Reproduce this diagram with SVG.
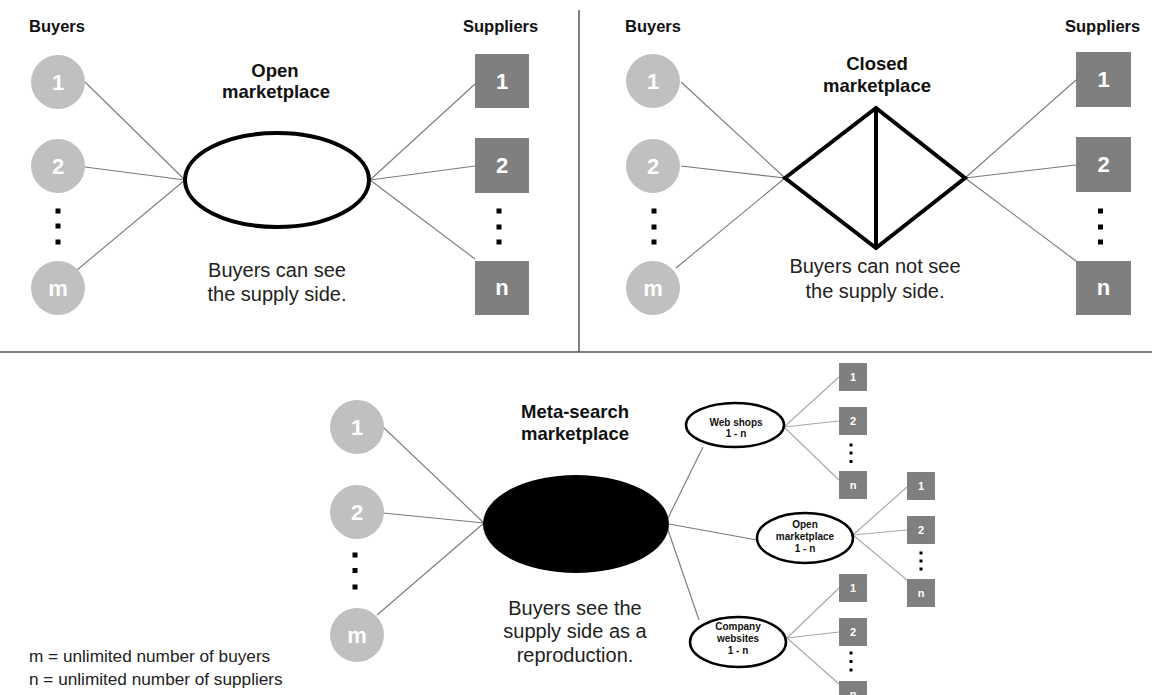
<svg xmlns="http://www.w3.org/2000/svg" width="1152" height="695" viewBox="0 0 1152 695">
  <style>
    text { font-family: "Liberation Sans", Arial, sans-serif; fill: #111; }
    .head { font-size: 16.5px; font-weight: bold; }
    .title { font-size: 18.5px; font-weight: bold; text-anchor: middle; }
    .body { font-size: 20px; text-anchor: middle; fill: #222; }
    .legend { font-size: 17.2px; fill: #222; }
    .buyer { fill: #c0c0c0; }
    .buyer-t { font-size: 22px; font-weight: bold; fill: #fff; text-anchor: middle; }
    .sup { fill: #7f7f7f; }
    .sup-t { font-size: 22px; font-weight: bold; fill: #fff; text-anchor: middle; }
    .ssup-t { font-size: 11px; font-weight: bold; fill: #fff; text-anchor: middle; }
    .dot { fill: #000; }
    .link { stroke: #7a7a7a; stroke-width: 1.1; fill: none; }
    .link-lite { stroke: #a8a8a8; stroke-width: 1.1; fill: none; }
    .market { fill: #fff; stroke: #000; stroke-width: 4; stroke-linejoin: miter; }
    .sub { fill: #fff; stroke: #000; stroke-width: 2.5; }
    .sub-t { font-size: 10px; font-weight: bold; text-anchor: middle; }
    .divider { stroke: #555; stroke-width: 1.5; }
  </style>

  <!-- panel dividers -->
  <g id="dividers">
    <line class="divider" x1="579" y1="10" x2="579" y2="352"/>
    <line class="divider" x1="0" y1="352" x2="1152" y2="352"/>
  </g>

  <!-- connectors -->
  <g id="connectors">
    <!-- open marketplace -->
    <line class="link" x1="85" y1="82" x2="185" y2="180"/>
    <line class="link" x1="85" y1="167" x2="185" y2="180"/>
    <line class="link" x1="77" y1="270" x2="185" y2="180"/>
    <line class="link" x1="370" y1="180" x2="475" y2="84"/>
    <line class="link" x1="370" y1="180" x2="475" y2="166"/>
    <line class="link" x1="370" y1="180" x2="475" y2="259"/>
    <!-- closed marketplace -->
    <line class="link" x1="681" y1="82" x2="785" y2="178"/>
    <line class="link" x1="681" y1="166" x2="785" y2="178"/>
    <line class="link" x1="676" y1="268" x2="785" y2="178"/>
    <line class="link" x1="965" y1="178" x2="1076" y2="80"/>
    <line class="link" x1="965" y1="178" x2="1076" y2="165"/>
    <line class="link" x1="965" y1="178" x2="1076" y2="261"/>
    <!-- meta-search marketplace -->
    <line class="link" x1="383" y1="427" x2="484" y2="523"/>
    <line class="link" x1="383" y1="513" x2="484" y2="523"/>
    <line class="link" x1="377" y1="615" x2="484" y2="523"/>
    <line class="link" x1="668" y1="518" x2="703" y2="447"/>
    <line class="link" x1="669" y1="524" x2="757" y2="540"/>
    <line class="link" x1="668" y1="530" x2="699" y2="620"/>
    <!-- web shops -->
    <line class="link-lite" x1="784" y1="427" x2="839" y2="377"/>
    <line class="link-lite" x1="784" y1="427" x2="839" y2="421"/>
    <line class="link-lite" x1="784" y1="427" x2="839" y2="480"/>
    <!-- open marketplace 1 - n -->
    <line class="link-lite" x1="853" y1="535" x2="907" y2="487"/>
    <line class="link-lite" x1="853" y1="535" x2="907" y2="530"/>
    <line class="link-lite" x1="853" y1="535" x2="907" y2="580"/>
    <!-- company websites -->
    <line class="link-lite" x1="787" y1="638" x2="839" y2="588"/>
    <line class="link-lite" x1="787" y1="638" x2="839" y2="632"/>
    <line class="link-lite" x1="787" y1="638" x2="839" y2="684"/>
  </g>

  <!-- ===== open marketplace panel ===== -->
  <g id="open-buyers">
    <text class="head" x="29" y="31.5">Buyers</text>
    <circle class="buyer" cx="58" cy="82" r="27"/>
    <text class="buyer-t" x="58" y="90">1</text>
    <circle class="buyer" cx="58" cy="166" r="27"/>
    <text class="buyer-t" x="58" y="174">2</text>
    <rect class="dot" x="55.5" y="208.5" width="5" height="5"/>
    <rect class="dot" x="55.5" y="223.5" width="5" height="5"/>
    <rect class="dot" x="55.5" y="239.5" width="5" height="5"/>
    <circle class="buyer" cx="58" cy="288" r="27"/>
    <text class="buyer-t" x="58" y="296">m</text>
  </g>
  <g id="open-market">
    <text class="title" x="275" y="77">Open</text>
    <text class="title" x="276" y="98">marketplace</text>
    <ellipse class="market" cx="277" cy="180" rx="92" ry="47"/>
    <text class="body" x="277" y="277">Buyers can see</text>
    <text class="body" x="277" y="301">the supply side.</text>
  </g>
  <g id="open-suppliers">
    <text class="head" x="463" y="31.5">Suppliers</text>
    <rect class="sup" x="475" y="54" width="54" height="54"/>
    <text class="sup-t" x="502" y="89">1</text>
    <rect class="sup" x="475" y="138" width="54" height="55"/>
    <text class="sup-t" x="502" y="173">2</text>
    <rect class="dot" x="496.5" y="208.5" width="5" height="5"/>
    <rect class="dot" x="496.5" y="224.5" width="5" height="5"/>
    <rect class="dot" x="496.5" y="239.5" width="5" height="5"/>
    <rect class="sup" x="475" y="261" width="54" height="54"/>
    <text class="sup-t" x="502" y="295">n</text>
  </g>

  <!-- ===== closed marketplace panel ===== -->
  <g id="closed-buyers">
    <text class="head" x="625" y="31.5">Buyers</text>
    <circle class="buyer" cx="653" cy="81" r="27"/>
    <text class="buyer-t" x="653" y="89">1</text>
    <circle class="buyer" cx="653" cy="166" r="27"/>
    <text class="buyer-t" x="653" y="174">2</text>
    <rect class="dot" x="651.5" y="208.5" width="5" height="5"/>
    <rect class="dot" x="651.5" y="224.5" width="5" height="5"/>
    <rect class="dot" x="651.5" y="239.5" width="5" height="5"/>
    <circle class="buyer" cx="653" cy="288" r="27"/>
    <text class="buyer-t" x="653" y="296">m</text>
  </g>
  <g id="closed-market">
    <text class="title" x="877" y="70">Closed</text>
    <text class="title" x="877" y="92">marketplace</text>
    <polygon class="market" points="785,178 876,108 965,178 876,248"/>
    <line x1="876" y1="108" x2="876" y2="248" stroke="#000" stroke-width="4"/>
    <text class="body" x="875" y="273">Buyers can not see</text>
    <text class="body" x="875" y="298">the supply side.</text>
  </g>
  <g id="closed-suppliers">
    <text class="head" x="1065" y="31.5">Suppliers</text>
    <rect class="sup" x="1076" y="52" width="55" height="55"/>
    <text class="sup-t" x="1103.5" y="87">1</text>
    <rect class="sup" x="1076" y="137" width="55" height="55"/>
    <text class="sup-t" x="1103.5" y="172">2</text>
    <rect class="dot" x="1098" y="208.5" width="5" height="5"/>
    <rect class="dot" x="1098" y="224.5" width="5" height="5"/>
    <rect class="dot" x="1098" y="239.5" width="5" height="5"/>
    <rect class="sup" x="1076" y="261" width="55" height="54"/>
    <text class="sup-t" x="1103.5" y="295">n</text>
  </g>

  <!-- ===== meta-search marketplace panel ===== -->
  <g id="meta-buyers">
    <circle class="buyer" cx="357" cy="427" r="27"/>
    <text class="buyer-t" x="357" y="435">1</text>
    <circle class="buyer" cx="357" cy="512" r="27"/>
    <text class="buyer-t" x="357" y="520">2</text>
    <rect class="dot" x="352.5" y="552.5" width="5" height="5"/>
    <rect class="dot" x="352.5" y="568" width="5" height="5"/>
    <rect class="dot" x="352.5" y="584.5" width="5" height="5"/>
    <circle class="buyer" cx="357" cy="635" r="27"/>
    <text class="buyer-t" x="357" y="643">m</text>
  </g>
  <g id="meta-market">
    <text class="title" x="575" y="418">Meta-search</text>
    <text class="title" x="575" y="440">marketplace</text>
    <ellipse cx="576" cy="524" rx="93" ry="49" fill="#000"/>
    <text class="body" x="575" y="615">Buyers see the</text>
    <text class="body" x="575" y="638">supply side as a</text>
    <text class="body" x="575" y="662">reproduction.</text>
  </g>
  <g id="web-shops">
    <ellipse class="sub" cx="735" cy="425" rx="49" ry="22"/>
    <text class="sub-t" x="736" y="426">Web shops</text>
    <text class="sub-t" x="736" y="437">1 - n</text>
  </g>
  <g id="web-shops-suppliers">
    <rect class="sup" x="839" y="363" width="28" height="28"/>
    <text class="ssup-t" x="853" y="381">1</text>
    <rect class="sup" x="839" y="407" width="28" height="28"/>
    <text class="ssup-t" x="853" y="425">2</text>
    <rect class="dot" x="849.5" y="443.5" width="3" height="3"/>
    <rect class="dot" x="849.5" y="451.5" width="3" height="3"/>
    <rect class="dot" x="849.5" y="460" width="3" height="3"/>
    <rect class="sup" x="839" y="471" width="28" height="28"/>
    <text class="ssup-t" x="853" y="489">n</text>
  </g>
  <g id="open-marketplace-sub">
    <ellipse class="sub" cx="805" cy="538" rx="48" ry="25"/>
    <text class="sub-t" x="805" y="528">Open</text>
    <text class="sub-t" x="805" y="540">marketplace</text>
    <text class="sub-t" x="805" y="552">1 - n</text>
  </g>
  <g id="open-marketplace-suppliers">
    <rect class="sup" x="907" y="472" width="28" height="28"/>
    <text class="ssup-t" x="921" y="490">1</text>
    <rect class="sup" x="907" y="516" width="28" height="28"/>
    <text class="ssup-t" x="921" y="534">2</text>
    <rect class="dot" x="919.5" y="551.5" width="3" height="3"/>
    <rect class="dot" x="919.5" y="559.5" width="3" height="3"/>
    <rect class="dot" x="919.5" y="567.5" width="3" height="3"/>
    <rect class="sup" x="907" y="579" width="28" height="28"/>
    <text class="ssup-t" x="921" y="597">n</text>
  </g>
  <g id="company-websites">
    <ellipse class="sub" cx="738" cy="642" rx="48" ry="25"/>
    <text class="sub-t" x="738" y="630">Company</text>
    <text class="sub-t" x="738" y="642">websites</text>
    <text class="sub-t" x="738" y="654">1 - n</text>
  </g>
  <g id="company-websites-suppliers">
    <rect class="sup" x="839" y="574" width="28" height="28"/>
    <text class="ssup-t" x="853" y="592">1</text>
    <rect class="sup" x="839" y="618" width="28" height="28"/>
    <text class="ssup-t" x="853" y="636">2</text>
    <rect class="dot" x="849.5" y="651.5" width="3" height="3"/>
    <rect class="dot" x="849.5" y="660" width="3" height="3"/>
    <rect class="dot" x="849.5" y="668.5" width="3" height="3"/>
    <rect class="sup" x="839" y="681" width="28" height="28"/>
    <text class="ssup-t" x="853" y="698">n</text>
  </g>

  <!-- legend -->
  <g id="legend">
    <text class="legend" x="29" y="661.5">m = unlimited number of buyers</text>
    <text class="legend" x="29" y="684.5">n = unlimited number of suppliers</text>
  </g>
</svg>
